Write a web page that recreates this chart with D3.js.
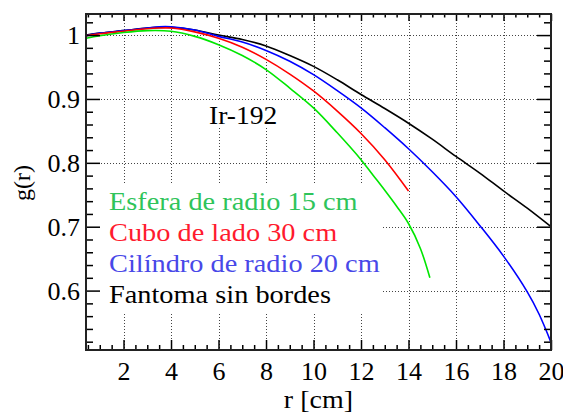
<!DOCTYPE html>
<html>
<head>
<meta charset="utf-8">
<script src="https://cdn.jsdelivr.net/npm/d3@7"></script>
<style>
  html, body { margin: 0; padding: 0; background: #fff; }
  svg text { font-family: "Liberation Serif", "DejaVu Serif", serif; }
</style>
</head>
<body>
<svg id="chart" width="563" height="416"></svg>
<script>
// Radial dose function g(r) for Ir-192 in four phantom geometries
const rEsfera = [0.42, 1, 2, 3, 4, 5, 6, 7, 8, 9, 10, 11, 12, 12.5, 13, 13.5, 14, 14.5, 14.9];
const gEsfera = [0.995, 0.999, 1.004, 1.007, 1.006, 0.998, 0.985, 0.968, 0.946, 0.917, 0.886, 0.847, 0.805, 0.781, 0.757, 0.732, 0.705, 0.666, 0.620];

const rCubo = [0.42, 1, 2, 3, 3.5, 4, 5, 6, 7, 8, 9, 10, 11, 12, 13, 14];
const gCubo = [0.999, 1.002, 1.006, 1.010, 1.011, 1.011, 1.005, 0.995, 0.981, 0.962, 0.939, 0.9125, 0.881, 0.846, 0.805, 0.756];

const rCilindro = [0.42, 1, 2, 3, 3.5, 4, 5, 6, 7, 8, 9, 10, 11, 12, 13, 14, 15, 16, 17, 18, 19, 19.5, 20];
const gCilindro = [0.999, 1.003, 1.007, 1.011, 1.013, 1.013, 1.008, 0.998, 0.989, 0.976, 0.959, 0.938, 0.913, 0.886, 0.855, 0.822, 0.786, 0.747, 0.702, 0.654, 0.598, 0.563, 0.519];

const rSinBordes = [0.42, 1, 2, 3, 3.5, 4, 5, 6, 7, 8, 9, 10, 11, 12, 13, 14, 15, 16, 17, 18, 19, 20];
const gSinBordes = [1.000, 1.003, 1.007, 1.011, 1.012, 1.012, 1.008, 1.000, 0.993, 0.983, 0.968, 0.951, 0.930, 0.907, 0.885, 0.862, 0.837, 0.810, 0.784, 0.756, 0.729, 0.700];

const seriesNames = ["Esfera de radio 15 cm", "Cubo de lado 30 cm", "Cilíndro de radio 20 cm", "Fantoma sin bordes"];
const xTickValues = [2, 4, 6, 8, 10, 12, 14, 16, 18, 20];
const yTickValues = [0.6, 0.7, 0.8, 0.9, 1.0];
const yTickLabels = ["0.6", "0.7", "0.8", "0.9", "1"];
const sourceLabel = "Ir-192";
const xTitle = "r [cm]";
const yTitle = "g(r)";

const series = [
  { name: seriesNames[0], r: rEsfera, g: gEsfera, line: "#00e600", text: "#2fc45a" },
  { name: seriesNames[1], r: rCubo, g: gCubo, line: "#ff0000", text: "#ff1a2e" },
  { name: seriesNames[2], r: rCilindro, g: gCilindro, line: "#0000ff", text: "#4848e8" },
  { name: seriesNames[3], r: rSinBordes, g: gSinBordes, line: "#000000", text: "#000000" }
];

const FONT = "'Liberation Serif', 'DejaVu Serif', serif";
const svg = d3.select("#chart");
const L = 86, R = 551, T = 14, B = 350;

const x = d3.scaleLinear().domain([0.42, 20]).range([L, R]);
const y = d3.scaleLinear().domain([0.507, 1.033]).range([B, T]);

// Dotted grid at the major ticks
const grid = svg.append("g").attr("stroke", "#444").attr("stroke-width", 1).attr("stroke-dasharray", "1,2");
grid.selectAll("line.gx").data(xTickValues).join("line")
  .attr("x1", d => Math.round(x(d)) + 0.5).attr("x2", d => Math.round(x(d)) + 0.5)
  .attr("y1", T).attr("y2", B);
grid.selectAll("line.gy").data(yTickValues).join("line")
  .attr("x1", L).attr("x2", R)
  .attr("y1", d => Math.round(y(d)) + 0.5).attr("y2", d => Math.round(y(d)) + 0.5);

// White boxes behind the legend and the source label
svg.append("rect").attr("x", L + 1).attr("y", 184).attr("width", 296).attr("height", 129).attr("fill", "#fff");
svg.append("rect").attr("x", 205).attr("y", 101).attr("width", 78).attr("height", 27).attr("fill", "#fff");

// Curves
const line = d3.line().x(d => x(d[0])).y(d => y(d[1])).curve(d3.curveCatmullRom.alpha(0.5));
svg.append("g").selectAll("path").data(series.slice().reverse()).join("path")
  .attr("d", s => line(s.r.map((r, i) => [r, s.g[i]])))
  .attr("fill", "none")
  .attr("stroke", s => s.line)
  .attr("stroke-width", 1.6);

// Axes with major and minor ticks on all four sides
const minorX = d3.range(0.5, 20.01, 0.5).filter(v => v % 2 !== 0);
const minorY = d3.range(0.52, 1.03, 0.02).filter(v => Math.abs(v * 10 - Math.round(v * 10)) > 1e-6);

function styleAxis(g) {
  g.select(".domain").remove();
  g.selectAll("line").attr("stroke", "#000").attr("stroke-width", 1.5);
}

svg.append("g").attr("transform", `translate(0,${B})`)
  .call(d3.axisBottom(x).tickValues(xTickValues).tickSize(-10).tickFormat(d3.format("d")))
  .call(styleAxis)
  .call(g => g.selectAll("text").attr("y", 30).attr("dy", 0)
    .attr("font-size", 26).style("font-family", FONT).attr("fill", "#000"));
svg.append("g").attr("transform", `translate(0,${B})`)
  .call(d3.axisBottom(x).tickValues(minorX).tickSize(-5).tickFormat(""))
  .call(styleAxis);

svg.append("g").attr("transform", `translate(0,${T})`)
  .call(d3.axisTop(x).tickValues(xTickValues).tickSize(-7).tickFormat(""))
  .call(styleAxis);
svg.append("g").attr("transform", `translate(0,${T})`)
  .call(d3.axisTop(x).tickValues(minorX).tickSize(-3.5).tickFormat(""))
  .call(styleAxis);

svg.append("g").attr("transform", `translate(${L},0)`)
  .call(d3.axisLeft(y).tickValues(yTickValues).tickSize(-14).tickPadding(6)
    .tickFormat((d, i) => yTickLabels[i]))
  .call(styleAxis)
  .call(g => g.selectAll("text").attr("dy", "0.34em")
    .attr("font-size", 26).style("font-family", FONT).attr("fill", "#000"));
svg.append("g").attr("transform", `translate(${L},0)`)
  .call(d3.axisLeft(y).tickValues(minorY).tickSize(-7).tickFormat(""))
  .call(styleAxis);

svg.append("g").attr("transform", `translate(${R},0)`)
  .call(d3.axisRight(y).tickValues(yTickValues).tickSize(-14).tickFormat(""))
  .call(styleAxis);
svg.append("g").attr("transform", `translate(${R},0)`)
  .call(d3.axisRight(y).tickValues(minorY).tickSize(-7).tickFormat(""))
  .call(styleAxis);

// Frame
svg.append("rect").attr("x", L).attr("y", T).attr("width", R - L).attr("height", B - T)
  .attr("fill", "none").attr("stroke", "#222").attr("stroke-width", 2);

// Legend (type set slightly wide)
svg.append("g").selectAll("text").data(series).join("text")
  .attr("transform", (d, i) => `translate(109,${210 + i * 31}) scale(1.09,1)`)
  .attr("font-size", 26).style("font-family", FONT).attr("fill", d => d.text)
  .text(d => d.name);

// Source label
svg.append("text").attr("transform", "translate(209,124) scale(1.06,1)").attr("font-size", 26)
  .style("font-family", FONT).attr("fill", "#000").text(sourceLabel);

// Axis titles
svg.append("text").attr("transform", "translate(353,408) scale(1.12,1)").attr("text-anchor", "end")
  .attr("font-size", 25).style("font-family", FONT).attr("fill", "#000").text(xTitle);
svg.append("text").attr("transform", "translate(30,183) rotate(-90)").attr("text-anchor", "middle")
  .attr("font-size", 24).style("font-family", FONT).attr("fill", "#000").text(yTitle);
</script>
</body>
</html>
